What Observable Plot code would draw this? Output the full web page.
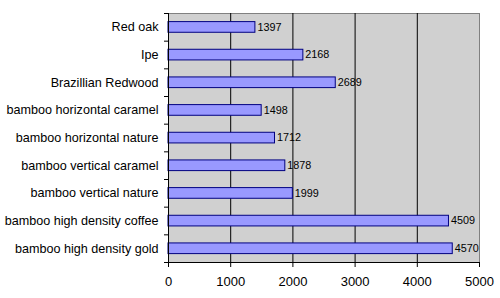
<!DOCTYPE html>
<html><head><meta charset="utf-8">
<script src="https://cdn.jsdelivr.net/npm/d3@7"></script>
<script src="https://cdn.jsdelivr.net/npm/@observablehq/plot@0.6"></script>
<style>body{margin:0;background:#fff}</style>
</head><body><div id="chart"></div>
<script>
const categories = ["Red oak","Ipe","Brazillian Redwood","bamboo horizontal caramel","bamboo horizontal nature","bamboo vertical caramel","bamboo vertical nature","bamboo high density coffee","bamboo high density gold"];
const values = [1397,2168,2689,1498,1712,1878,1999,4509,4570];
const xTicks = [0,1000,2000,3000,4000,5000];
const gridValues = [1000,2000,3000,4000];

const data = categories.map((c,i)=>({name:c, value:values[i], i}));
const font = "'Liberation Sans', Arial, sans-serif";

const chart = Plot.plot({
  width: 500, height: 298,
  marginLeft: 168, marginRight: 21, marginTop: 13, marginBottom: 36,
  style: {fontFamily: font, background: "#fff"},
  x: {domain: [0,5000]},
  y: {domain: [0, categories.length], reverse: true},
  marks: [
    Plot.frame({fill: "#d0d0d0", stroke: "#808080"}),
    Plot.ruleX(gridValues, {stroke: "#000", strokeWidth: 1}),
    Plot.rectX(data, {x1: 0, x2: "value", y1: "i", y2: d => d.i + 1, insetTop: 8.6, insetBottom: 8.4, fill: "#9999ff", stroke: "#000080", strokeWidth: 1}),
    Plot.text(data, {x: "value", y: d => d.i + 0.5, text: d => String(d.value), dx: 2, textAnchor: "start", fontSize: 10.8, fill: "#000"}),
    Plot.ruleX([0], {stroke: "#000"}),
    Plot.frame({anchor: "bottom", stroke: "#000"}),
    Plot.axisX(xTicks, {tickSize: 5, tickPadding: 9, fontSize: 13, tickFormat: d => String(d), label: null, stroke: "#000", color: "#000"}),
    Plot.axisY(d3.range(0, categories.length + 1), {tickSize: 4, tickFormat: () => "", label: null, stroke: "#000"}),
    Plot.axisY(categories.map((c,i)=>i+0.5), {tickSize: 0, tickPadding: 10, tickFormat: d => categories[Math.floor(d)], fontSize: 12.6, label: null, color: "#000"})
  ]
});
document.getElementById("chart").appendChild(chart);
</script></body></html>
